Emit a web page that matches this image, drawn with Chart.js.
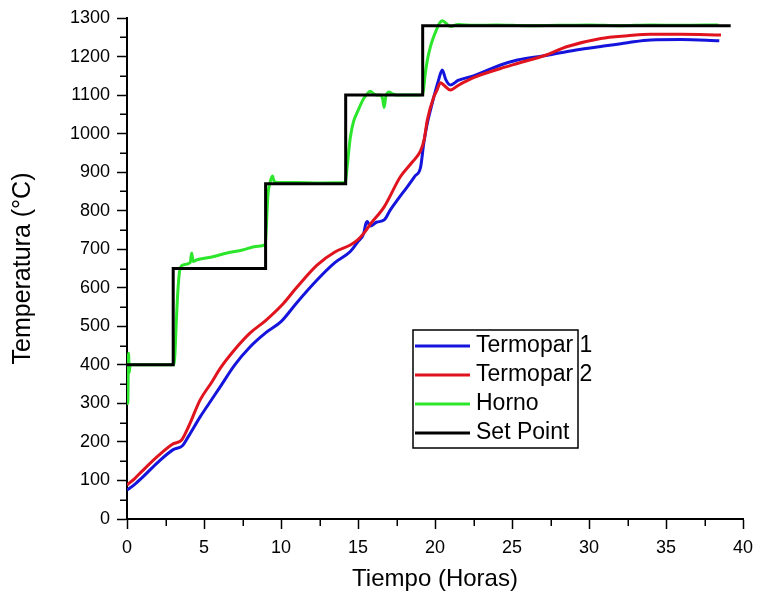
<!DOCTYPE html>
<html>
<head>
<meta charset="utf-8">
<script src="https://cdn.jsdelivr.net/npm/chart.js@4"></script>
<style>
  html, body { margin: 0; padding: 0; background: #fff; }
  #c { display: block; }
</style>
</head>
<body>
<canvas id="c" width="757" height="595"></canvas>
<script>
// Series names
const seriesLabels = ['Termopar 1', 'Termopar 2', 'Horno', 'Set Point'];

// Termopar 1 (hours, °C)
const t1Time = [0, 0.5, 1, 2, 3, 3.6, 4.0, 4.75, 5.5, 6.05, 7.0, 8.0, 9.0, 10.0, 11.0, 12.34, 13.5, 14.5, 15.0, 15.37, 15.5, 15.6, 15.8, 16.2, 16.7, 17.1, 17.6, 18.2, 18.7, 19.06, 19.27, 19.5, 19.7, 19.93, 20.2, 20.47, 20.7, 21.0, 21.5, 22.5, 24.26, 25.35, 27.08, 28.6, 30.77, 32.5, 34, 36, 38.46];
const t1Temp = [75, 90, 108, 147, 180, 190, 215, 265, 310, 343, 400, 447, 483, 512, 560, 620, 665, 694, 720, 741, 765, 772, 760, 770, 776, 802, 830, 862, 890, 912, 975, 1027, 1060, 1096, 1135, 1165, 1140, 1126, 1138, 1150, 1178, 1191, 1202, 1213, 1226, 1236, 1243, 1244, 1241];

// Termopar 2 (hours, °C)
const t2Time = [0, 0.5, 1, 2, 3, 3.55, 4.0, 4.75, 5.5, 6.05, 7.0, 8.0, 9.0, 10.17, 11.0, 12.34, 13.5, 14.5, 15.0, 15.37, 15.8, 16.7, 17.75, 18.5, 19.06, 19.3, 19.5, 19.93, 20.1, 20.36, 20.6, 21.0, 21.5, 22.5, 24.26, 25.35, 27.08, 28.6, 30.77, 32.5, 34, 36, 38.57];
const t2Temp = [88, 105, 125, 163, 195, 205, 240, 309, 355, 391, 440, 483, 515, 560, 600, 659, 693, 711, 725, 741, 765, 810, 888, 925, 955, 985, 1035, 1096, 1110, 1132, 1125, 1113, 1125, 1145, 1169, 1182, 1202, 1226, 1247, 1254, 1258, 1258, 1256];

// Horno (furnace) (hours, °C)
const hornoTime = [0, 0.05, 0.1, 0.15, 0.2, 3.0, 3.1, 3.2, 3.3, 3.45, 3.7, 4.1, 4.2, 4.3, 4.5, 5.5, 6.5, 7.5, 8.5, 8.98, 9.05, 9.15, 9.3, 9.45, 9.55, 9.8, 11, 12.5, 14.1, 14.2, 14.3, 14.5, 14.7, 14.95, 15.2, 15.4, 15.6, 15.8, 16.0, 16.2, 16.45, 16.6, 16.7, 16.8, 17.0, 17.2, 17.5, 18.0, 18.5, 19.15, 19.25, 19.35, 19.5, 19.7, 19.9, 20.1, 20.3, 20.47, 20.7, 21.0, 21.5, 22.5, 24, 26, 28, 30, 32, 34, 36, 38.4];
const hornoTemp = [400, 300, 430, 380, 400, 400, 420, 510, 590, 650, 660, 665, 690, 668, 672, 680, 690, 698, 708, 712, 760, 840, 875, 890, 876, 873, 873, 872, 873, 880, 915, 990, 1030, 1055, 1078, 1093, 1103, 1110, 1104, 1100, 1100, 1090, 1068, 1095, 1108, 1104, 1100, 1100, 1100, 1101, 1112, 1150, 1190, 1225, 1250, 1270, 1287, 1293, 1287, 1278, 1283, 1281, 1282, 1280, 1281, 1282, 1280, 1282, 1281, 1282];

// Set point program: each level holds until the next change time
const setTime = [0, 3.0, 9.0, 14.2, 19.2, 39.2];
const setTemp = [400, 650, 870, 1100, 1280, 1280];

// Axis ranges and tick steps
const xRange = [0, 40], xMajor = 5, xMinor = 2.5;
const yRange = [0, 1300], yMajor = 100, yMinor = 50;

const seriesColors = ['#1414dc', '#e0141e', '#2ce62c', '#000000'];
const FONT = "'Liberation Sans', Arial, sans-serif";

const toPoints = (xs, ys) => xs.map((x, i) => ({ x, y: ys[i] }));

// Short unlabeled ticks between the major ticks
const minorTicks = {
  id: 'minorTicks',
  afterDraw(chart) {
    const { ctx, scales: { x, y } } = chart;
    ctx.save();
    ctx.strokeStyle = '#000';
    ctx.lineWidth = 1.5;
    for (let v = xRange[0] + xMinor; v < xRange[1]; v += xMajor) {
      const px = Math.round(x.getPixelForValue(v)) + 0.25;
      ctx.beginPath();
      ctx.moveTo(px, x.top);
      ctx.lineTo(px, x.top + 7);
      ctx.stroke();
    }
    for (let v = yRange[0] + yMinor; v < yRange[1]; v += yMajor) {
      const py = Math.round(y.getPixelForValue(v)) + 0.25;
      ctx.beginPath();
      ctx.moveTo(y.right - 7, py);
      ctx.lineTo(y.right, py);
      ctx.stroke();
    }
    ctx.restore();
  }
};

// Boxed legend inside the plot area
const boxLegend = {
  id: 'boxLegend',
  afterDraw(chart) {
    const { ctx } = chart;
    const box = { left: 413, top: 330, width: 165, height: 118 };
    ctx.save();
    ctx.fillStyle = '#fff';
    ctx.fillRect(box.left, box.top, box.width, box.height);
    ctx.strokeStyle = '#000';
    ctx.lineWidth = 1.5;
    ctx.strokeRect(box.left, box.top, box.width, box.height);
    ctx.font = '23px ' + FONT;
    ctx.textBaseline = 'middle';
    ctx.textAlign = 'left';
    chart.data.datasets.forEach((ds, i) => {
      const cy = box.top + 16 + i * 29;
      ctx.strokeStyle = ds.borderColor;
      ctx.lineWidth = 3;
      ctx.beginPath();
      ctx.moveTo(box.left + 2, cy);
      ctx.lineTo(box.left + 57, cy);
      ctx.stroke();
      ctx.fillStyle = '#000';
      ctx.fillText(ds.label, box.left + 63, cy);
    });
    ctx.restore();
  }
};

const lineStyle = (i) => ({
  label: seriesLabels[i],
  borderColor: seriesColors[i],
  backgroundColor: seriesColors[i],
  borderWidth: 3,
  pointRadius: 0,
  fill: false
});

const plainNumber = (v) => String(v);

new Chart(document.getElementById('c'), {
  type: 'line',
  data: {
    datasets: [
      { ...lineStyle(0), data: toPoints(t1Time, t1Temp), cubicInterpolationMode: 'monotone', order: 3 },
      { ...lineStyle(1), data: toPoints(t2Time, t2Temp), cubicInterpolationMode: 'monotone', order: 1 },
      { ...lineStyle(2), data: toPoints(hornoTime, hornoTemp), cubicInterpolationMode: 'monotone', order: 2 },
      { ...lineStyle(3), data: toPoints(setTime, setTemp), stepped: true, order: 0 }
    ]
  },
  options: {
    responsive: false,
    animation: false,
    devicePixelRatio: 1,
    layout: { padding: { left: 0, top: 18, right: 14, bottom: 0 } },
    plugins: { legend: { display: false }, tooltip: { enabled: false } },
    scales: {
      x: {
        type: 'linear',
        min: xRange[0], max: xRange[1],
        ticks: { stepSize: xMajor, color: '#000', font: { family: FONT, size: 18 }, padding: 8, maxRotation: 0, callback: plainNumber },
        grid: { drawOnChartArea: false, tickLength: 10, tickColor: '#000', tickWidth: 1.5 },
        border: { color: '#000', width: 2 },
        title: { display: true, text: 'Tiempo (Horas)', color: '#000', font: { family: FONT, size: 24 }, padding: { top: 0, bottom: 1 } },
        afterFit(scale) {
          scale.height = 76;
          scale.paddingLeft = 0;
          scale.paddingRight = 0;
        }
      },
      y: {
        type: 'linear',
        min: yRange[0], max: yRange[1],
        ticks: { stepSize: yMajor, color: '#000', font: { family: FONT, size: 18 }, padding: 7, callback: plainNumber },
        grid: { drawOnChartArea: false, tickLength: 10, tickColor: '#000', tickWidth: 1.5 },
        border: { color: '#000', width: 2 },
        title: { display: true, text: 'Temperatura (°C)', color: '#000', font: { family: FONT, size: 25 }, padding: { top: 8, bottom: 0 } },
        afterFit(scale) { scale.width = 127; }
      }
    }
  },
  plugins: [minorTicks, boxLegend]
});
</script>
</body>
</html>
